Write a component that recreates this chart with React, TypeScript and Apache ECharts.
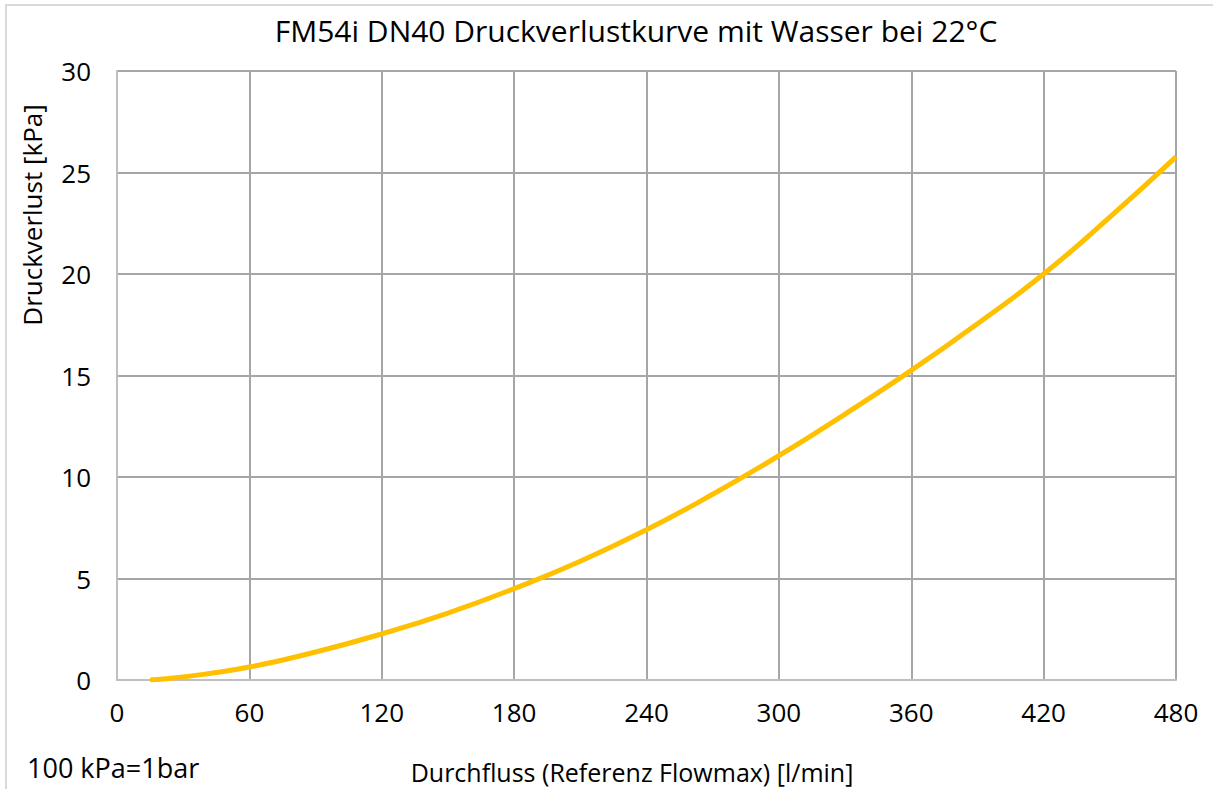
import React, { useEffect, useRef } from "react";
import * as echarts from "echarts";

const TITLE = "FM54i DN40 Druckverlustkurve mit Wasser bei 22°C";
const X_NAME = "Durchfluss (Referenz Flowmax) [l/min]";
const Y_NAME = "Druckverlust [kPa]";
const NOTE = "100 kPa=1bar";

const flow = [15, 30, 60, 90, 120, 150, 180, 210, 240, 270, 300, 330, 360, 390, 420, 450, 480];
const pressure = [0, 0.15, 0.64, 1.38, 2.27, 3.3, 4.5, 5.85, 7.4, 9.15, 11.05, 13.1, 15.25, 17.55, 20.0, 22.8, 25.77];

const FONT = "'Open Sans', 'Noto Sans', sans-serif";

export default function App() {
  const ref = useRef<HTMLDivElement>(null);
  useEffect(() => {
    if (!ref.current) return;
    const chart = echarts.init(ref.current, undefined, { renderer: "svg" });
    const data = flow.map((f, i) => [f, pressure[i]]);
    chart.setOption({
      animation: false,
      backgroundColor: "#ffffff",
      textStyle: { fontFamily: FONT },
      title: {
        text: TITLE,
        left: 631,
        textAlign: "center",
        top: 10,
        textStyle: { fontFamily: FONT, fontSize: 30, fontWeight: "normal", color: "#000" },
      },
      grid: { left: 117, top: 71, right: 37, bottom: 109, containLabel: false },
      xAxis: {
        type: "value",
        min: 0,
        max: 480,
        interval: 60,
        axisLine: { show: true, lineStyle: { color: "#BFBFBF", width: 2 } },
        axisTick: { show: false },
        axisLabel: { fontFamily: FONT, fontSize: 26, color: "#000", margin: 19 },
        splitLine: { show: true, lineStyle: { color: "#A6A6A6", width: 2 } },
      },
      yAxis: {
        type: "value",
        min: 0,
        max: 30,
        interval: 5,
        axisLine: { show: true, lineStyle: { color: "#BFBFBF", width: 2 } },
        axisTick: { show: false },
        axisLabel: { fontFamily: FONT, fontSize: 26, color: "#000", margin: 26 },
        splitLine: { show: true, lineStyle: { color: "#A6A6A6", width: 2 } },
      },
      series: [
        {
          type: "line",
          data,
          smooth: true,
          symbol: "none",
          lineStyle: { color: "#FFC000", width: 5 },
          z: 5,
        },
      ],
      graphic: [
        {
          type: "rect",
          shape: { x: 6, y: 5, width: 1220, height: 800 },
          style: { fill: "none", stroke: "#D9D9D9", lineWidth: 2 },
          silent: true,
          z: -1,
        },
        {
          type: "text",
          x: 632,
          y: 772,
          style: {
            text: X_NAME,
            fontFamily: FONT,
            fontSize: 25,
            fill: "#000",
            textAlign: "center",
            textVerticalAlign: "middle",
          },
        },
        {
          type: "text",
          x: 32,
          y: 215,
          rotation: Math.PI / 2,
          style: {
            text: Y_NAME,
            fontFamily: FONT,
            fontSize: 26,
            fill: "#000",
            textAlign: "center",
            textVerticalAlign: "middle",
          },
        },
        {
          type: "text",
          x: 27,
          y: 767,
          style: {
            text: NOTE,
            fontFamily: FONT,
            fontSize: 27,
            fill: "#000",
            textAlign: "left",
            textVerticalAlign: "middle",
          },
        },
      ],
    });
    return () => chart.dispose();
  }, []);
  return (
    <div
      ref={ref}
      style={{ position: "fixed", left: 0, top: 0, width: 1213, height: 789, background: "#fff" }}
    />
  );
}
